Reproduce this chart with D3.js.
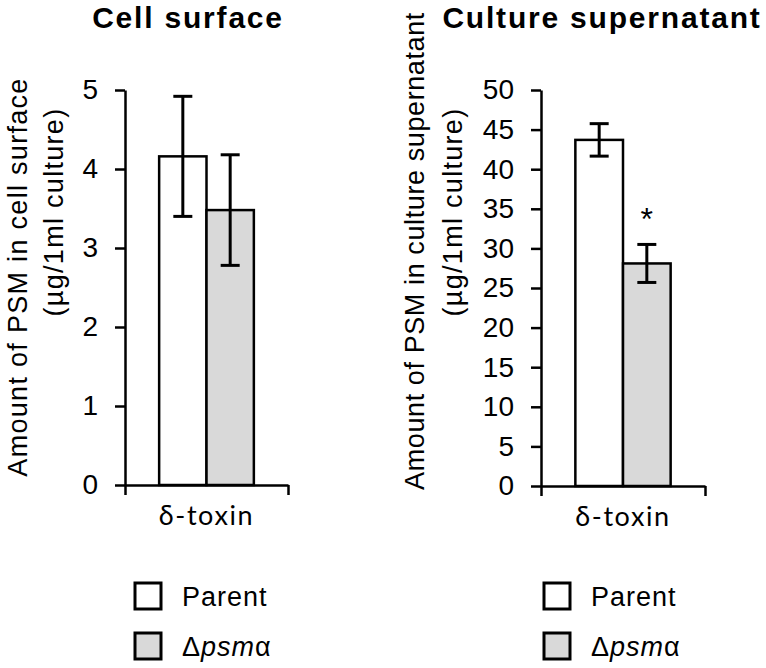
<!DOCTYPE html>
<html>
<head>
<meta charset="utf-8">
<script src="https://cdn.jsdelivr.net/npm/d3@7/dist/d3.min.js"></script>
<style>
  html, body { margin: 0; padding: 0; background: #fff; }
  svg { display: block; }
  text { font-family: "Liberation Sans", Arial, Helvetica, sans-serif; fill: #000; }
</style>
</head>
<body>
<svg id="chart" width="766" height="668"></svg>
<script>
// ---- data ----
const categories = ["δ-toxin"];
const seriesNames = ["Parent", "Δpsmα"];
const seriesColors = ["#ffffff", "#d9d9d9"];
const panelTitles = ["Cell surface", "Culture supernatant"];
const yLabelLine1 = ["Amount of PSM in cell surface", "Amount of PSM in culture supernatant"];
const yLabelLine2 = ["(µg/1ml culture)", "(µg/1ml culture)"];
const surfaceValues = [4.16, 3.48];
const surfaceErrors = [0.76, 0.70];
const supernatantValues = [43.7, 28.1];
const supernatantErrors = [2.05, 2.4];
const surfaceTicks = [0, 1, 2, 3, 4, 5];
const supernatantTicks = [0, 5, 10, 15, 20, 25, 30, 35, 40, 45, 50];
const surfaceMarks = ["", ""];
const supernatantMarks = ["", "*"];

const panels = [
  { title: panelTitles[0], l1: yLabelLine1[0], l2: yLabelLine2[0], values: surfaceValues, errors: surfaceErrors,
    ticks: surfaceTicks, marks: surfaceMarks, x0: 125, x1: 288, y0: 485, y1: 90,
    titleX: 188, l1Center: 277, l1X: 27, l1Spacing: 1.3, l2Center: 212, l2X: 63, legendX: 135 },
  { title: panelTitles[1], l1: yLabelLine1[1], l2: yLabelLine2[1], values: supernatantValues, errors: supernatantErrors,
    ticks: supernatantTicks, marks: supernatantMarks, x0: 541, x1: 705, y0: 486, y1: 90,
    titleX: 602, l1Center: 251, l1X: 424, l1Spacing: 0.6, l2Center: 212, l2X: 462, legendX: 544 }
];

const svg = d3.select("#chart");

panels.forEach(p => {
  const g = svg.append("g");
  const y = d3.scaleLinear().domain([0, d3.max(p.ticks)]).range([p.y0, p.y1]);
  const xCat = d3.scaleBand().domain(categories).range([p.x0, p.x1]).padding(0.265);
  const xSer = d3.scaleBand().domain(seriesNames).range([0, xCat.bandwidth()]).padding(0);
  const color = d3.scaleOrdinal().domain(seriesNames).range(seriesColors);

  // title
  g.append("text").attr("x", p.titleX).attr("y", 28).attr("text-anchor", "middle")
    .style("font-size", "30px").style("font-weight", "bold").style("letter-spacing", "1.8px")
    .text(p.title);

  // y-axis labels
  g.append("text").attr("transform", `translate(${p.l1X},${p.l1Center}) rotate(-90)`)
    .attr("text-anchor", "middle").style("font-size", "27px").style("letter-spacing", p.l1Spacing + "px")
    .text(p.l1);
  g.append("text").attr("transform", `translate(${p.l2X},${p.l2Center}) rotate(-90)`)
    .attr("text-anchor", "middle").style("font-size", "27px").style("letter-spacing", "1.3px")
    .text(p.l2);

  // bars
  const data = seriesNames.map((s, i) => ({ cat: categories[0], s, v: p.values[i], e: p.errors[i], m: p.marks[i] }));
  g.selectAll("rect.bar").data(data).enter().append("rect").attr("class", "bar")
    .attr("x", d => xCat(d.cat) + xSer(d.s))
    .attr("y", d => y(d.v))
    .attr("width", xSer.bandwidth())
    .attr("height", d => y(0) - y(d.v))
    .attr("fill", d => color(d.s))
    .attr("stroke", "#000").attr("stroke-width", 2.5);

  // error bars
  const cx = d => xCat(d.cat) + xSer(d.s) + xSer.bandwidth() / 2;
  const eb = g.selectAll("g.err").data(data).enter().append("g").attr("class", "err")
    .attr("stroke", "#000").attr("stroke-width", 3);
  eb.append("line").attr("x1", cx).attr("x2", cx).attr("y1", d => y(d.v + d.e)).attr("y2", d => y(d.v - d.e));
  eb.append("line").attr("x1", d => cx(d) - 9.5).attr("x2", d => cx(d) + 9.5).attr("y1", d => y(d.v + d.e)).attr("y2", d => y(d.v + d.e));
  eb.append("line").attr("x1", d => cx(d) - 9.5).attr("x2", d => cx(d) + 9.5).attr("y1", d => y(d.v - d.e)).attr("y2", d => y(d.v - d.e));

  // significance marks
  g.selectAll("text.mark").data(data.filter(d => d.m)).enter().append("text").attr("class", "mark")
    .attr("x", cx).attr("y", d => y(d.v + d.e) - 14).attr("text-anchor", "middle")
    .style("font-size", "32px").text(d => d.m);

  // y axis
  const yAxis = g.append("g").attr("transform", `translate(${p.x0},0)`)
    .call(d3.axisLeft(y).tickValues(p.ticks).tickSize(10).tickSizeOuter(0).tickPadding(17).tickFormat(d3.format("d")));
  yAxis.select(".domain").attr("stroke", "#000").attr("stroke-width", 2.5);
  yAxis.selectAll(".tick line").attr("stroke", "#000").attr("stroke-width", 2.5);
  yAxis.selectAll(".tick text").style("font-size", "28px").style("font-family", "Liberation Sans, Arial, sans-serif").attr("fill", "#000");

  // x axis (category boundaries ticks downward)
  const xEdge = d3.scaleLinear().domain([0, 1]).range([p.x0, p.x1]);
  const xAxis = g.append("g").attr("transform", `translate(0,${p.y0})`)
    .call(d3.axisBottom(xEdge).tickValues([0, 1]).tickSize(10).tickSizeOuter(0).tickFormat(""));
  xAxis.select(".domain").attr("stroke", "#000").attr("stroke-width", 2.5);
  xAxis.selectAll(".tick line").attr("stroke", "#000").attr("stroke-width", 2.5);

  // category label
  g.selectAll("text.cat").data(categories).enter().append("text").attr("class", "cat")
    .attr("x", d => xCat(d) + xCat.bandwidth() / 2).attr("y", p.y0 + 40)
    .attr("text-anchor", "middle").style("font-family", "Lato, 'Open Sans', sans-serif")
    .style("font-size", "27px").style("letter-spacing", "1.6px").text(d => d);

  // legend
  const lg = g.selectAll("g.leg").data(seriesNames).enter().append("g").attr("class", "leg")
    .attr("transform", (d, i) => `translate(${p.legendX},${583 + i * 50})`);
  lg.append("rect").attr("width", 26).attr("height", 26).attr("fill", d => color(d))
    .attr("stroke", "#000").attr("stroke-width", 3);
  const lt = lg.append("text").attr("x", 47).attr("y", 23).style("font-size", "27px").style("letter-spacing", "1px");
  lt.each(function(d) {
    const t = d3.select(this);
    if (d.startsWith("Δ")) {
      t.append("tspan").text("Δ");
      t.append("tspan").style("font-style", "italic").text(d.slice(1, -1));
      t.append("tspan").text(d.slice(-1));
    } else {
      t.text(d);
    }
  });
});
</script>
</body>
</html>
